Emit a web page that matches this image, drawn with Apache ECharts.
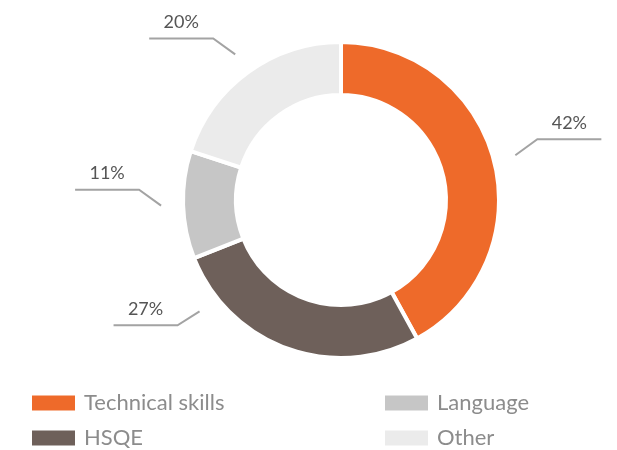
<!DOCTYPE html>
<html>
<head>
<meta charset="utf-8">
<script src="https://cdn.jsdelivr.net/npm/echarts@6/dist/echarts.min.js"></script>
<style>
  html, body { margin: 0; padding: 0; background: #fff; }
  #chart { width: 617px; height: 450px; }
</style>
</head>
<body>
<div id="chart"></div>
<script>
// data
var categories = ['Technical skills', 'HSQE', 'Language', 'Other'];
var shares = [42, 27, 11, 20];
var colors = ['#ee6a2a', '#6e605a', '#c6c6c6', '#ebebeb'];

var myChart = echarts.init(document.getElementById('chart'));

// ring geometry
var cx = 341, cy = 200, rIn = 105, rOut = 158;

// mid angle of each slice (degrees, clockwise from top)
var total = shares.reduce(function (a, b) { return a + b; }, 0);
var midAngles = [];
var acc = 0;
shares.forEach(function (v) {
    midAngles.push((acc + v / 2) / total * 360);
    acc += v;
});
// the bottom-left label is pulled up to the left side
var labelNudge = { 1: 32 };

function placeLabel(p) {
    var i = p.dataIndex;
    var a = (midAngles[i] + (labelNudge[i] || 0)) * Math.PI / 180;
    var r0 = rOut + 22;
    var sx = cx + r0 * Math.sin(a), sy = cy - r0 * Math.cos(a);
    var dir = Math.sin(a) >= 0 ? 1 : -1;
    var bx = sx + dir * 22, by = sy + (sy < cy + 20 ? -16 : 14);
    var ex = bx + dir * 64;
    return {
        x: (bx + ex) / 2,
        y: by - 16,
        align: 'center',
        verticalAlign: 'middle',
        labelLinePoints: [[sx, sy], [bx, by], [ex, by]]
    };
}

var legendText = { fontFamily: 'Lato', fontSize: 22, lineHeight: 17, color: '#8c8c8c', padding: [0, 0, 0, 3] };

var option = {
    backgroundColor: '#fff',
    color: colors,
    legend: [{
        orient: 'vertical',
        left: 30, top: 392, height: 120, padding: 0,
        itemWidth: 45, itemHeight: 17, itemGap: 13,
        icon: 'rect',
        data: categories.slice(0, 2),
        textStyle: legendText
    }, {
        orient: 'vertical',
        left: 383, top: 392, height: 120, padding: 0,
        itemWidth: 45, itemHeight: 17, itemGap: 13,
        icon: 'rect',
        data: categories.slice(2),
        textStyle: legendText
    }],
    series: [{
        type: 'pie',
        center: [cx, cy],
        radius: [rIn, rOut],
        startAngle: 90,
        clockwise: true,
        silent: true,
        itemStyle: { borderColor: '#fff', borderWidth: 4 },
        label: {
            show: true,
            formatter: '{c}%',
            fontFamily: 'Lato',
            fontSize: 18,
            color: '#555',
            alignTo: 'none',
            overflow: 'none'
        },
        labelLine: {
            show: true,
            length: 20,
            length2: 60,
            lineStyle: { color: '#a3a3a3', width: 2 }
        },
        labelLayout: placeLabel,
        data: categories.map(function (c, i) {
            return { name: c, value: shares[i] };
        })
    }]
};

myChart.setOption(option);
</script>
</body>
</html>
